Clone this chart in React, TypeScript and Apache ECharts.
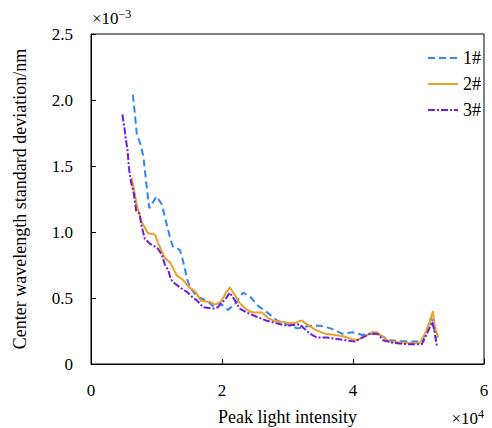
import React, { useEffect, useRef } from "react";
import * as echarts from "echarts";

// x in units of 1e4, y in units of 1e-3
const s1X = [0.64, 0.70, 0.76, 0.80, 0.84, 0.89, 1.00, 1.08, 1.13, 1.21, 1.25, 1.31, 1.36, 1.41, 1.47, 1.51, 1.62, 1.77, 1.86, 1.97, 2.09, 2.21, 2.32, 2.43, 2.55, 2.69, 2.84, 2.99, 3.15, 3.34, 3.50, 3.66, 3.83, 4.00, 4.14, 4.29, 4.37, 4.56, 4.81, 5.05, 5.13, 5.19, 5.22, 5.27];
const s1Y = [2.04, 1.74, 1.66, 1.57, 1.39, 1.18, 1.27, 1.21, 1.11, 0.95, 0.89, 0.88, 0.86, 0.77, 0.64, 0.58, 0.51, 0.48, 0.44, 0.46, 0.41, 0.46, 0.54, 0.51, 0.44, 0.39, 0.33, 0.30, 0.27, 0.29, 0.29, 0.27, 0.23, 0.24, 0.22, 0.23, 0.23, 0.18, 0.17, 0.17, 0.26, 0.35, 0.32, 0.18];

const s2X = [0.62, 0.65, 0.70, 0.77, 0.87, 0.98, 1.02, 1.13, 1.21, 1.31, 1.40, 1.50, 1.59, 1.68, 1.82, 1.89, 1.98, 2.06, 2.12, 2.20, 2.27, 2.38, 2.47, 2.55, 2.61, 2.70, 2.78, 2.89, 3.04, 3.11, 3.21, 3.30, 3.42, 3.57, 3.73, 3.85, 3.98, 4.06, 4.18, 4.29, 4.37, 4.44, 4.56, 4.82, 5.02, 5.10, 5.18, 5.22, 5.25, 5.30];
const s2Y = [1.41, 1.34, 1.20, 1.08, 0.99, 0.98, 0.92, 0.80, 0.77, 0.67, 0.64, 0.58, 0.55, 0.48, 0.47, 0.45, 0.47, 0.54, 0.58, 0.52, 0.46, 0.41, 0.39, 0.39, 0.39, 0.35, 0.33, 0.32, 0.31, 0.31, 0.33, 0.30, 0.26, 0.23, 0.22, 0.21, 0.19, 0.18, 0.21, 0.24, 0.24, 0.21, 0.17, 0.16, 0.16, 0.23, 0.33, 0.40, 0.28, 0.20];

const s3X = [0.48, 0.51, 0.53, 0.56, 0.58, 0.61, 0.65, 0.69, 0.74, 0.77, 0.82, 0.90, 1.01, 1.08, 1.13, 1.18, 1.22, 1.28, 1.36, 1.48, 1.54, 1.62, 1.71, 1.86, 1.94, 1.97, 2.05, 2.12, 2.20, 2.27, 2.38, 2.52, 2.67, 2.82, 2.99, 3.15, 3.19, 3.25, 3.34, 3.45, 3.60, 3.76, 3.89, 4.02, 4.14, 4.26, 4.37, 4.46, 4.61, 4.82, 5.05, 5.13, 5.21, 5.24, 5.28];
const s3Y = [1.89, 1.79, 1.71, 1.61, 1.48, 1.38, 1.30, 1.16, 1.14, 1.05, 0.95, 0.91, 0.88, 0.83, 0.75, 0.71, 0.64, 0.61, 0.58, 0.54, 0.51, 0.48, 0.43, 0.42, 0.43, 0.45, 0.49, 0.54, 0.48, 0.42, 0.39, 0.36, 0.33, 0.31, 0.29, 0.30, 0.30, 0.27, 0.23, 0.20, 0.20, 0.19, 0.18, 0.17, 0.20, 0.23, 0.23, 0.18, 0.16, 0.15, 0.15, 0.23, 0.32, 0.26, 0.14];

const seriesNames = ["1#", "2#", "3#"];
const xTickLabels = ["0", "2", "4", "6"];
const yTickLabels = ["0", "0.5", "1.0", "1.5", "2.0", "2.5"];

const zip = (xs: number[], ys: number[]) => xs.map((x, i) => [x, ys[i]]);

const FONT = "Liberation Serif";

export default function App() {
  const ref = useRef<HTMLDivElement>(null);
  useEffect(() => {
    if (!ref.current) return;
    const chart = echarts.init(ref.current, undefined, { renderer: "svg" });
    const colors = ["#2F87F1", "#E9A126", "#6A1CE8"];
    const dashes: any[] = [[7, 4], "solid", [7, 2, 2, 2]];
    const datas = [zip(s1X, s1Y), zip(s2X, s2Y), zip(s3X, s3Y)];
    chart.setOption({
      animation: false,
      textStyle: { fontFamily: FONT },
      grid: {
        left: 91, right: 8, top: 34, bottom: 64,
        outerBoundsMode: "none",
        containLabel: false,
        show: true, borderColor: "#000", borderWidth: 1, backgroundColor: "transparent",
      },
      legend: {
        orient: "vertical",
        right: 6,
        top: 44,
        itemWidth: 30,
        itemHeight: 14,
        itemGap: 8,
        itemStyle: { opacity: 0, borderWidth: 0 },
        textStyle: { fontFamily: FONT, fontSize: 18, color: "#000" },
        data: seriesNames,
      },
      xAxis: {
        type: "value",
        min: 0,
        max: 6,
        interval: 2,
        name: "Peak light intensity",
        nameLocation: "middle",
        nameGap: 44,
        nameTextStyle: { fontFamily: FONT, fontSize: 18, color: "#000" },
        axisLine: { show: true, lineStyle: { color: "#000", width: 1 } },
        axisTick: { inside: true, length: 5, lineStyle: { color: "#000" } },
        splitLine: { show: false },
        axisLabel: {
          fontFamily: FONT,
          fontSize: 17,
          color: "#000",
          margin: 18,
          formatter: (v: number) => xTickLabels[Math.round(v / 2)] ?? String(v),
        },
      },
      yAxis: {
        type: "value",
        min: 0,
        max: 2.5,
        interval: 0.5,
        name: "Center wavelength standard deviation/nm",
        nameLocation: "middle",
        nameGap: 62,
        nameTextStyle: { fontFamily: FONT, fontSize: 18, color: "#000" },
        axisLine: { show: true, lineStyle: { color: "#000", width: 1 } },
        axisTick: { inside: true, length: 5, lineStyle: { color: "#000" } },
        splitLine: { show: false },
        axisLabel: {
          fontFamily: FONT,
          fontSize: 17,
          color: "#000",
          margin: 18,
          formatter: (v: number) => yTickLabels[Math.round(v / 0.5)] ?? String(v),
        },
      },
      graphic: [
        {
          type: "text",
          left: 92,
          top: 8,
          style: {
            text: "×10{sup|−3}",
            fontFamily: FONT,
            fontSize: 17,
            fill: "#000",
            rich: { sup: { fontFamily: FONT, fontSize: 12, verticalAlign: "top", padding: [0, 0, 8, 0], fill: "#000" } },
          },
        },
        {
          type: "text",
          right: 8,
          top: 408,
          style: {
            text: "×10{sup|4}",
            fontFamily: FONT,
            fontSize: 17,
            fill: "#000",
            rich: { sup: { fontFamily: FONT, fontSize: 12, verticalAlign: "top", padding: [0, 0, 8, 0], fill: "#000" } },
          },
        },
      ],
      series: datas.map((d, i) => ({
        name: seriesNames[i],
        type: "line",
        data: d,
        showSymbol: false,
        symbol: "none",
        smooth: false,
        color: colors[i],
        lineStyle: { color: colors[i], width: 2, type: dashes[i] },
      })),
    });
    return () => chart.dispose();
  }, []);
  return <div ref={ref} style={{ width: 492, height: 428, position: "absolute", left: 0, top: 0 }} />;
}
